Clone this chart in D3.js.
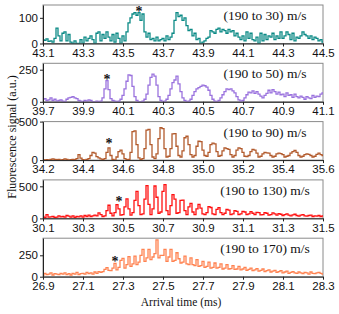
<!DOCTYPE html>
<html>
<head>
<meta charset="utf-8">
<script src="https://cdn.jsdelivr.net/npm/d3@7"></script>
<style>
	body { margin: 0; background: #fff; }
	svg { display: block; font-family: "Liberation Serif", "Times New Roman", serif; }
	.tick text { font-size: 11.5px; fill: #111; }
	.tick line, .domain { stroke: #222; }
</style>
</head>
<body>
<script>

// fluorescence counts, one bin every 0.01 ms, starting at each panel's first tick
var binWidth = 0.01;

var starts = [43.1, 39.7, 34.2, 30.1, 26.9];
var labels = ['(190 to 30) m/s', '(190 to 50) m/s', '(190 to 90) m/s', '(190 to 130) m/s', '(190 to 170) m/s'];
var colors = ['#0b8a86', '#9a72de', '#b25a2c', '#ff1010', '#ff8250'];
var yMax = [150, 300, 500, 600, 450];
var yTicks = [[0, 100], [0, 250], [0, 500], [0, 500], [0, 250]];

var xTicks30 = [43.1, 43.3, 43.5, 43.7, 43.9, 44.1, 44.3, 44.5];
var xTicks50 = [39.7, 39.9, 40.1, 40.3, 40.5, 40.7, 40.9, 41.1];
var xTicks90 = [34.2, 34.4, 34.6, 34.8, 35.0, 35.2, 35.4, 35.6];
var xTicks130 = [30.1, 30.3, 30.5, 30.7, 30.9, 31.1, 31.3, 31.5];
var xTicks170 = [26.9, 27.1, 27.3, 27.5, 27.7, 27.9, 28.1, 28.3];

// asterisk marks (time, level)
var starTimes = [43.58, 40.02, 34.53, 30.48, 27.26];
var starLevels = [135, 195, 245, 300, 210];

var s30 = [
	15, 12, 18, 8, 10, 5, 20, 60, 30, 10,
	40, 45, 10, 35, 5, 0, 10, 0, 0, 15,
	0, 25, 10, 20, 30, 15, 0, 40, 45, 10,
	35, 20, 45, 25, 10, 35, 5, 40, 20, 0,
	30, 10, 45, 80, 100, 115, 120, 110, 120, 90,
	115, 45, 25, 40, 15, 20, 10, 25, 10, 15,
	20, 10, 30, 15, 25, 40, 90, 120, 105, 110,
	90, 100, 70, 50, 55, 30, 40, 15, 20, 0,
	5, 10, 20, 25, 50, 45, 40, 55, 60, 45,
	55, 50, 40, 55, 45, 50, 30, 40, 25, 15,
	30, 10, 45, 20, 40, 15, 10, 25, 0, 40,
	10, 35, 15, 30, 25, 40, 15, 30, 20, 45,
	20, 30, 45, 35, 15, 40, 10, 25, 20, 30,
	45, 35, 30, 20, 30, 15, 25, 20, 10, 15,
	5
];

var s50 = [
	20, 25, 10, 15, 30, 10, 20, 5, 10, 15,
	5, 0, 20, 30, 35, 40, 30, 25, 10, 5,
	0, 10, 5, 15, 10, 0, 0, 5, 0, 5,
	30, 100, 165, 95, 25, 10, 5, 0, 5, 20,
	50, 100, 160, 210, 205, 120, 40, 10, 0, 0,
	5, 20, 60, 130, 190, 215, 200, 130, 40, 10,
	0, 5, 20, 50, 100, 150, 170, 200, 140, 80,
	30, 10, 0, 5, 20, 50, 80, 100, 110, 120,
	130, 125, 115, 90, 50, 20, 5, 0, 10, 30,
	55, 80, 100, 95, 100, 85, 70, 40, 15, 5,
	10, 30, 55, 75, 70, 85, 65, 80, 60, 45,
	30, 50, 65, 90, 70, 95, 80, 60, 75, 55,
	60, 40, 70, 50, 55, 35, 60, 40, 30, 45,
	35, 20, 40, 30, 25, 50, 35, 45, 40, 60,
	70
];

var s90 = [
	5, 0, 5, 0, 10, 15, 10, 5, 10, 0,
	5, 15, 10, 0, 5, 10, 5, 20, 70, 25,
	5, 0, 10, 20, 60, 100, 90, 45, 30, 15,
	5, 20, 100, 160, 60, 10, 0, 40, 110, 130,
	80, 20, 5, 10, 100, 370, 380, 200, 30, 10,
	20, 150, 390, 400, 200, 40, 20, 80, 280, 420,
	410, 150, 40, 50, 150, 340, 345, 180, 60, 40,
	120, 290, 310, 200, 70, 40, 60, 180, 245, 240,
	130, 60, 50, 100, 200, 220, 210, 110, 50, 60,
	120, 160, 150, 140, 70, 40, 60, 130, 160, 150,
	100, 50, 45, 60, 110, 140, 130, 90, 40, 50,
	80, 100, 95, 90, 60, 40, 50, 80, 90, 85,
	70, 40, 50, 60, 90, 110, 125, 100, 60, 40,
	50, 70, 80, 75, 60, 40, 50, 75, 90, 70,
	60
];

var s130 = [
	30, 10, 60, 20, 25, 30, 15, 20, 40, 25,
	30, 20, 45, 35, 20, 40, 15, 30, 25, 40,
	20, 45, 30, 50, 30, 40, 50, 40, 85, 60,
	30, 40, 120, 205, 80, 40, 90, 215, 150, 50,
	60, 180, 305, 150, 50, 90, 280, 420, 200, 60,
	70, 300, 510, 220, 60, 150, 505, 330, 80, 100,
	420, 525, 120, 60, 200, 370, 300, 80, 90, 280,
	285, 120, 60, 180, 235, 100, 60, 150, 220, 160,
	70, 60, 90, 185, 170, 70, 60, 140, 168, 90,
	60, 80, 140, 130, 60, 70, 120, 110, 60, 70,
	110, 100, 60, 70, 105, 80, 60, 95, 90, 55,
	60, 90, 80, 50, 60, 85, 70, 50, 75, 65,
	45, 60, 70, 50, 40, 55, 65, 45, 35, 50,
	60, 40, 35, 45, 50, 30, 40, 35, 45, 30,
	40
];

var s170 = [
	20, 40, 25, 30, 45, 20, 35, 30, 25, 40,
	30, 45, 25, 35, 20, 40, 30, 50, 25, 35,
	40, 30, 50, 35, 45, 30, 55, 40, 60, 50,
	60, 85, 105, 75, 70, 100, 155, 80, 110, 190,
	215, 100, 140, 235, 120, 150, 240, 140, 170, 250,
	320, 180, 220, 320, 200, 230, 270, 430, 220, 250,
	250, 320, 180, 230, 320, 180, 190, 280, 210, 160,
	170, 240, 150, 140, 220, 140, 130, 200, 120, 130,
	180, 110, 120, 170, 100, 110, 160, 100, 110, 150,
	90, 100, 140, 90, 95, 130, 85, 90, 120, 80,
	90, 110, 75, 85, 100, 70, 80, 95, 65, 75,
	90, 60, 70, 80, 55, 65, 75, 50, 60, 70,
	45, 55, 65, 40, 50, 60, 45, 40, 55, 45,
	35, 50, 45, 30, 55, 40, 35, 45, 50, 40,
	30
];

var series = [s30, s50, s90, s130, s170];
var xTicks = [xTicks30, xTicks50, xTicks90, xTicks130, xTicks170];

(function(){

	var w = 339;
	var h = 314;
	var left = 43;
	var right = 323;
	var panelH = 38.5;
	var pitch = 58.3;

	var svg = d3.select('body')
				.append('svg')
				.attr('width', w)
				.attr('height', h);

	series.forEach(function(data, p){

		var top = 5 + p * pitch;
		var start = starts[p];

		var x = d3.scaleLinear()
					.domain([start, start + 1.4])
					.range([left, right]);

		var y = d3.scaleLinear()
					.domain([0, yMax[p]])
					.range([top + panelH, top]);

		var g = svg.append('g');

		g.append('clipPath')
			.attr('id', 'clip' + p)
			.append('rect')
			.attr('x', left)
			.attr('y', top)
			.attr('width', right - left)
			.attr('height', panelH);

		// light frame on top and right
		g.append('rect')
			.attr('x', left)
			.attr('y', top)
			.attr('width', right - left)
			.attr('height', panelH)
			.attr('fill', 'none')
			.attr('stroke', '#8a8a8a')
			.attr('stroke-width', 1);

		var line = d3.line()
					.x(function(d, i){
						return x(start + i * binWidth);
					})
					.y(function(d){
						return y(d);
					})
					.curve(d3.curveStep);

		g.append('path')
			.datum(data)
			.attr('clip-path', 'url(#clip' + p + ')')
			.attr('d', line)
			.attr('fill', 'none')
			.attr('stroke', colors[p])
			.attr('stroke-width', 1.3)
			.attr('stroke-linejoin', 'miter');

		g.append('g')
			.attr('transform', 'translate(0,' + (top + panelH) + ')')
			.call(d3.axisBottom(x)
				.tickValues(xTicks[p])
				.tickFormat(d3.format('.1f'))
				.tickSizeInner(3)
				.tickSizeOuter(0)
				.tickPadding(2));

		g.append('g')
			.attr('transform', 'translate(' + left + ',0)')
			.call(d3.axisLeft(y)
				.tickValues(yTicks[p])
				.tickSizeInner(3)
				.tickSizeOuter(0)
				.tickPadding(2));

		g.append('text')
			.attr('x', 265)
			.attr('y', top + 15)
			.attr('text-anchor', 'middle')
			.style('font-size', '13.5px')
			.attr('fill', '#111')
			.text(labels[p]);

		g.append('text')
			.attr('x', x(starTimes[p]))
			.attr('y', y(starLevels[p]) + 7)
			.attr('text-anchor', 'middle')
			.style('font-size', '14px')
			.style('font-weight', 'bold')
			.attr('fill', '#111')
			.text('*');
	});

	svg.append('text')
		.attr('transform', 'translate(12,137) rotate(-90)')
		.attr('text-anchor', 'middle')
		.attr('dy', '0.35em')
		.style('font-size', '12px')
		.attr('fill', '#111')
		.text('Fluorescence signal (a.u.)');

	svg.append('text')
		.attr('x', 181)
		.attr('y', 306)
		.attr('text-anchor', 'middle')
		.style('font-size', '11.5px')
		.attr('fill', '#111')
		.text('Arrival time (ms)');

})();

</script>
</body>
</html>
